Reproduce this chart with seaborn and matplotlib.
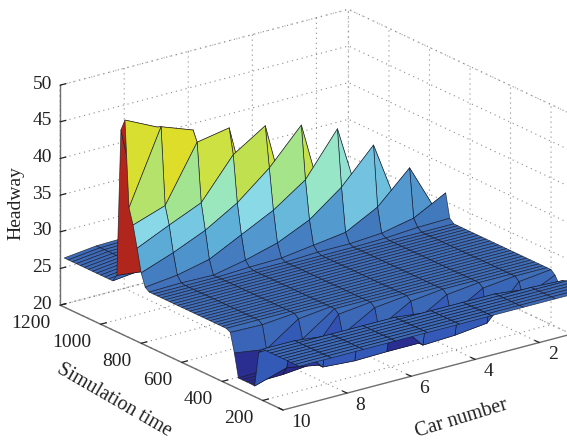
import matplotlib
matplotlib.use("Agg")
import matplotlib.pyplot as plt
import numpy as np
import seaborn as sns
from matplotlib.colors import LinearSegmentedColormap, Normalize
from mpl_toolkits.mplot3d import proj3d

# headway, rows run from t=1180 down to t=20 in steps of 20
sim_time = list(range(1180, 0, -20))
car_numbers = [1, 2, 3, 4, 5, 6, 7, 8, 9, 10]

car10 = [26.7] * 13 + [27.7, 47.8, 49.4, 37.7, 35.6, 32.7, 29.6, 27.9] + [27.5] * 20 + [27.2, 24.65, 21.5, 21.5, 21.5, 21.5, 21.45, 26.3] + [27.0] * 10
car9 = [27.2] * 15 + [47.3, 47.6, 37.1, 34.7, 31.2, 28.4, 27.6] + [27.5] * 19 + [27.1, 24.0, 21.6, 21.6, 21.6, 21.6, 22.8, 26.5] + [27.0] * 10
car8 = [27.3] * 16 + [46.0, 44.6, 36.6, 33.1, 29.4, 27.5] + [27.5] * 20 + [27.0, 24.5, 22.0, 22.0, 22.0, 22.0, 22.0, 26.5] + [27.0] * 9
car7 = [27.3] * 17 + [45.4, 42.0, 35.7, 31.6, 28.4, 27.7] + [27.5] * 21 + [27.0, 24.5, 21.7, 21.7, 21.7, 26.5] + [27.0] * 9
car6 = [27.3] * 18 + [44.8, 39.3, 33.8, 29.6, 27.8] + [27.5] * 22 + [27.0, 24.5, 21.8, 21.8, 26.5] + [27.0] * 9
car5 = [27.3] * 19 + [44.0, 36.8, 31.6, 28.4, 27.7] + [27.5] * 22 + [27.0, 24.5, 21.8, 21.8, 26.5] + [27.0] * 8
car4 = [27.3] * 20 + [42.6, 34.9, 29.0, 27.7] + [27.5] * 23 + [27.0, 24.5, 22.0, 26.5] + [27.0] * 8
car3 = [27.3] * 21 + [39.5, 31.3, 28.0, 27.6] + [27.5] * 23 + [27.0, 22.5, 26.5] + [27.0] * 8
car2 = [27.3] * 22 + [35.5, 28.9, 27.9] + [27.5] * 24 + [27.0, 25.0, 26.5] + [27.0] * 7
car1 = [27.3] * 23 + [31.2, 28.0] + [27.5] * 25 + [27.0, 26.0, 26.8] + [27.0] * 6

time_ticks = [200, 400, 600, 800, 1000, 1200]
car_ticks = [2, 4, 6, 8, 10]
headway_ticks = [20, 25, 30, 35, 40, 45, 50]

color_stops = [
    (21.5, "#2a2a8c"), (23.0, "#2a2e90"), (24.0, "#3358b8"), (26.0, "#3a66b8"), (27.6, "#3f6fb8"),
    (29.0, "#4279bd"), (30.5, "#4f92cc"), (32.4, "#5fb0d8"), (35.0, "#88d8e8"),
    (36.5, "#98e6c8"), (38.5, "#a5e488"), (40.5, "#c2e04f"), (42.0, "#cce244"),
    (43.8, "#dadf2c"), (44.2, "#f0d020"), (44.6, "#f07010"), (46.0, "#c02c20"),
    (50.0, "#a02018"),
]

dots = (0, (1, 3.5))
sns.set_style("white", rc={"grid.linestyle": dots, "grid.color": "#8a8a8a", "grid.linewidth": 0.9})
plt.rcParams["font.family"] = ["Liberation Serif", "DejaVu Serif"]

Z = np.array([car1, car2, car3, car4, car5, car6, car7, car8, car9, car10]).T
C, T = np.meshgrid(car_numbers, sim_time)

# colour of a facet follows the mean height, a facet with one far corner ignores that corner
lo, hi = color_stops[0][0], color_stops[-1][0]
norm = Normalize(lo, hi)
cmap = LinearSegmentedColormap.from_list("headway", [((v - lo) / (hi - lo), c) for v, c in color_stops], N=512)
values = np.zeros((Z.shape[0] - 1, Z.shape[1] - 1))
for i in range(values.shape[0]):
    for j in range(values.shape[1]):
        corners = np.sort(Z[i:i + 2, j:j + 2].ravel())
        values[i, j] = corners[1:].mean() if corners[1] - corners[0] > 9 else corners.mean()
values[sim_time.index(880), 8] = 43.5
values[sim_time.index(920), 8] = 48.0

fig = plt.figure(figsize=(5.67, 4.43), dpi=100)
side = 1.0
ax = fig.add_axes([0, 0, side, side * 567 / 443], projection="3d", proj_type="ortho")
ax.view_init(elev=20.6, azim=143.2)
ax.set_xlim(100, 1200)
ax.set_ylim(1, 10)
ax.set_zlim(20, 50)
ax.set_box_aspect((372, 360, 235))

ax.set_xticks(time_ticks)
ax.set_yticks(car_ticks)
ax.set_zticks(headway_ticks)

surf = ax.plot_surface(T, C, Z, facecolors=cmap(norm(values)), rstride=1, cstride=1, shade=False)
surf.set_edgecolor((0.08, 0.08, 0.14, 0.8))
surf.set_linewidth(0.5)
# rows already go far to near, so keep that order instead of sorting by depth
surf._zsortfunc = lambda zs: 0


def to_px(t, c, z):
    x, y, _ = proj3d.proj_transform(t, c, z, ax.get_proj())
    return ax.transData.transform((x, y))


# fit the box to the picture: headway axis 220 px tall, front corner at 283,410
ax.apply_aspect()
tall = to_px(1200, 10, 50)[1] - to_px(1200, 10, 20)[1]
ax.set_box_aspect((372, 360, 235), zoom=220 / tall)
ax.apply_aspect()
front = to_px(100, 10, 20)
pos = ax.get_position()
ax.set_position([pos.x0 + (283 - front[0]) / 567, pos.y0 + ((443 - 410) - front[1]) / 443, pos.width, pos.height])

for axis in (ax.xaxis, ax.yaxis, ax.zaxis):
    axis.pane.set_facecolor((1, 1, 1, 0))
    axis.pane.set_edgecolor("#8a8a8a")
    axis.pane.set_linestyle(dots)
    axis.line.set_color("#6e6e6e")
    axis.line.set_linewidth(1.0)
    axis._axinfo["tick"].update(inward_factor=0.0, outward_factor=0.25)
    axis._axinfo["tick"]["linewidth"] = {True: 0.9, False: 0.5}
    axis._axinfo["tick"]["color"] = "#6e6e6e"
ax.zaxis.set_ticks_position("upper")
ax.tick_params(axis="x", labelsize=14, colors="#222222", pad=-1)
ax.tick_params(axis="y", labelsize=14, colors="#222222", pad=0)
ax.tick_params(axis="z", labelsize=14, colors="#222222", pad=-0.5)
ax.grid(True)
for label in ax.get_xticklabels():
    label.set_ha("right")
for label in ax.get_yticklabels():
    label.set_ha("left")
    label.set_va("center")
for label in ax.get_zticklabels():
    label.set_va("center")

fig.text(16 / 567, 1 - 203 / 443, "Headway", rotation=90, fontsize=14, ha="center", va="center", color="#222222")
fig.text(114 / 567, 1 - 400 / 443, "Simulation time", rotation=-30, fontsize=14.5, ha="center", va="center", color="#222222")
fig.text(461 / 567, 1 - 419 / 443, "Car number", rotation=17, fontsize=14.5, ha="center", va="center", color="#222222")

fig.savefig("out.png", dpi=100)
